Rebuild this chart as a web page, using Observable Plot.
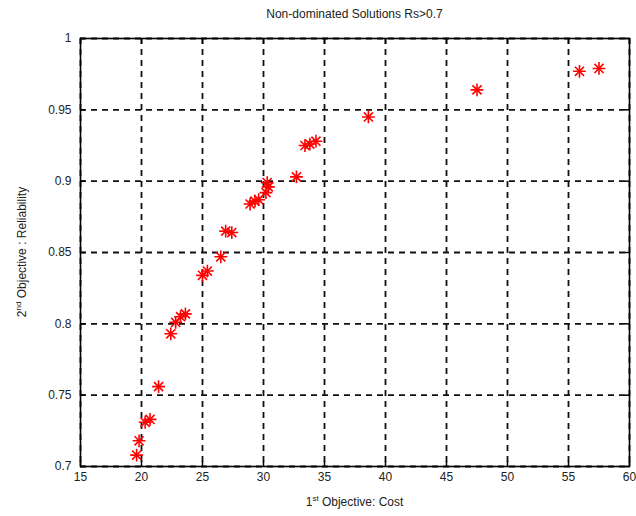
<!DOCTYPE html>
<html>
<head>
<meta charset="utf-8">
<script src="https://cdn.jsdelivr.net/npm/d3@7"></script>
<script src="https://cdn.jsdelivr.net/npm/@observablehq/plot@0.6"></script>
<style>
  html, body { margin: 0; padding: 0; background: #fff; }
  #chart svg { display: block; }
</style>
</head>
<body>
<div id="chart"></div>
<script>
const titleText = "Non-dominated Solutions Rs>0.7";
const costs = [19.6, 19.8, 20.3, 20.7, 21.4, 22.4, 22.8, 23.2, 23.6, 25.0, 25.4, 26.5, 26.9, 27.4, 28.9, 29.3, 29.6, 30.2, 30.4, 30.3, 32.7, 33.4, 33.8, 34.3, 38.6, 47.5, 55.9, 57.5];
const reliabilities = [0.708, 0.718, 0.731, 0.733, 0.756, 0.793, 0.801, 0.805, 0.807, 0.834, 0.837, 0.847, 0.865, 0.864, 0.884, 0.886, 0.887, 0.892, 0.896, 0.899, 0.903, 0.925, 0.926, 0.928, 0.945, 0.964, 0.977, 0.979];
const xTicks = [15, 20, 25, 30, 35, 40, 45, 50, 55, 60];
const yTicks = [0.7, 0.75, 0.8, 0.85, 0.9, 0.95, 1];

const data = costs.map((c, i) => ({cost: c, rel: reliabilities[i]}));
const dash = "6,5";
const ink = "#222";

const chart = Plot.plot({
  width: 636,
  height: 516,
  marginLeft: 80,
  marginRight: 7,
  marginTop: 38,
  marginBottom: 50,
  style: {fontFamily: "'Liberation Sans', Arial, sans-serif", fontSize: "12px", color: ink, background: "#fff"},
  x: {domain: [15, 60], ticks: xTicks, label: null},
  y: {domain: [0.7, 1], ticks: yTicks, label: null},
  marks: [
    Plot.gridX(xTicks, {stroke: "#111", strokeOpacity: 1, strokeWidth: 1.8, strokeDasharray: dash}),
    Plot.gridY(yTicks, {stroke: "#111", strokeOpacity: 1, strokeWidth: 1.8, strokeDasharray: dash}),
    Plot.axisX(xTicks, {anchor: "bottom", tickSize: -5, tickFormat: () => "", stroke: "#000", strokeWidth: 1.5}),
    Plot.axisX(xTicks, {anchor: "top", tickSize: -5, tickFormat: () => "", stroke: "#000", strokeWidth: 1.5}),
    Plot.axisY(yTicks, {anchor: "left", tickSize: -5, tickFormat: () => "", stroke: "#000", strokeWidth: 1.5}),
    Plot.axisY(yTicks, {anchor: "right", tickSize: -5, tickFormat: () => "", stroke: "#000", strokeWidth: 1.5}),
    Plot.axisX(xTicks, {anchor: "bottom", tickSize: 0, tickPadding: 6, fontSize: 12, fill: ink, tickFormat: d => String(d)}),
    Plot.axisY(yTicks, {anchor: "left", tickSize: 0, tickPadding: 9, fontSize: 12, fill: ink, tickFormat: d => String(d)}),
    Plot.frame({stroke: "#000", strokeWidth: 1.6}),
    Plot.dot(data, {x: "cost", y: "rel", symbol: "plus", r: 4.2, stroke: "red", strokeWidth: 1.6}),
    Plot.dot(data, {x: "cost", y: "rel", symbol: "times", r: 4.2, stroke: "red", strokeWidth: 1.6})
  ]
});

document.getElementById("chart").appendChild(chart);

// Title and axis labels (with superscripts) as SVG text
const svg = d3.select(chart);
const cx = 80 + (636 - 80 - 7) / 2;
const font = "'Liberation Sans', Arial, sans-serif";
svg.append("text")
  .attr("x", cx).attr("y", 18)
  .attr("text-anchor", "middle")
  .attr("font-family", font).attr("font-size", 12).attr("fill", ink)
  .text(titleText);

const xl = svg.append("text")
  .attr("x", cx).attr("y", 506)
  .attr("text-anchor", "middle")
  .attr("font-family", font).attr("font-size", 12).attr("fill", ink);
xl.append("tspan").text("1");
xl.append("tspan").attr("font-size", 8).attr("dy", -5).text("st");
xl.append("tspan").attr("dy", 5).text(" Objective: Cost");

const yl = svg.append("text")
  .attr("transform", `translate(26,${38 + (466 - 38) / 2}) rotate(-90)`)
  .attr("text-anchor", "middle")
  .attr("font-family", font).attr("font-size", 12).attr("fill", ink);
yl.append("tspan").text("2");
yl.append("tspan").attr("font-size", 8).attr("dy", -5).text("nd");
yl.append("tspan").attr("dy", 5).text(" Objective : Reliability");
</script>
</body>
</html>
